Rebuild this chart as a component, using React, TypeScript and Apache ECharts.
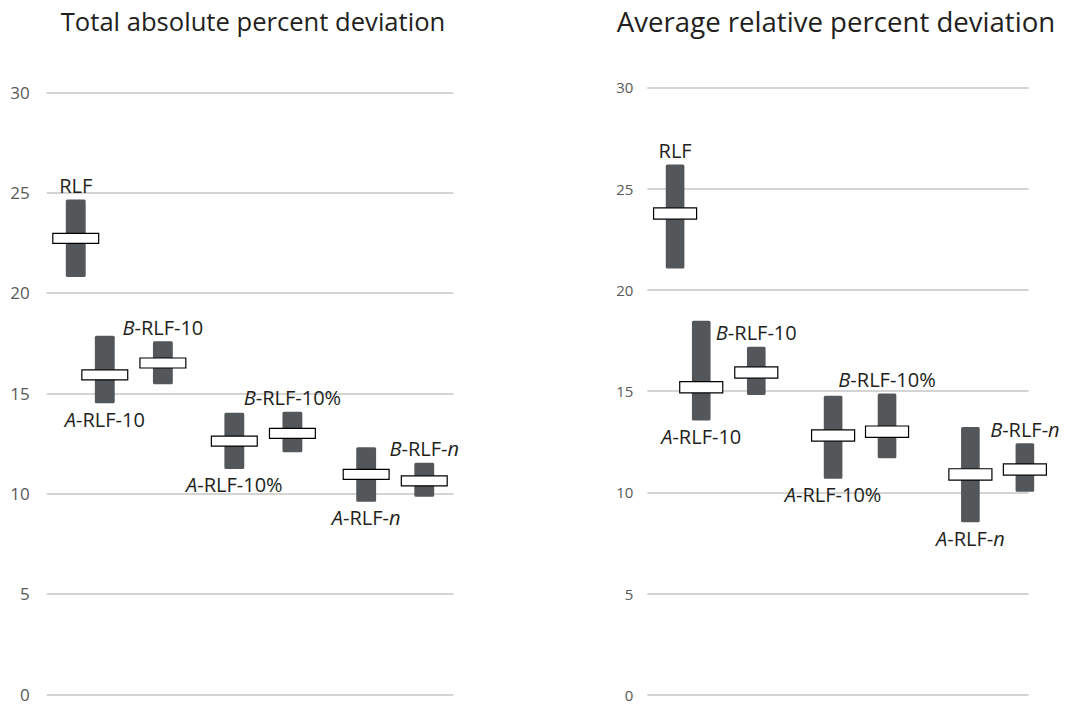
import React, { useEffect, useRef } from "react";
import * as echarts from "echarts";

const categories = ["RLF", "A-RLF-10", "B-RLF-10", "A-RLF-10%", "B-RLF-10%", "A-RLF-n", "B-RLF-n"];
const yTicks = [0, 5, 10, 15, 20, 25, 30];

// Left panel: Total absolute percent deviation
const leftX = [0.5, 1.0, 2.0, 3.23, 4.23, 5.5, 6.5];
const leftLow = [20.79, 14.51, 15.45, 11.23, 12.06, 9.6, 9.85];
const leftHigh = [24.66, 17.87, 17.59, 14.03, 14.08, 12.31, 11.54];
const leftMid = [22.72, 15.92, 16.51, 12.62, 13.0, 10.96, 10.64];

// Right panel: Average relative percent deviation
const rightX = [0.51, 0.99, 2.0, 3.41, 4.4, 5.93, 6.93];
const rightLow = [21.05, 13.55, 14.81, 10.67, 11.69, 8.53, 10.03];
const rightHigh = [26.19, 18.48, 17.19, 14.77, 14.89, 13.23, 12.43];
const rightMid = [23.77, 15.19, 15.92, 12.81, 13.0, 10.89, 11.13];

const titles = ["Total absolute percent deviation", "Average relative percent deviation"];

const FONT = "'Open Sans', 'Noto Sans', sans-serif";
const TEXT = "#231f20";
const LABEL_SIZE = 20;

function richName(name: string): string {
  let s = name;
  let out = "";
  if (s.startsWith("A-") || s.startsWith("B-")) {
    out += "{i|" + s[0] + "}";
    s = s.slice(1);
  }
  if (s.endsWith("-n")) {
    out += "{r|" + s.slice(0, -1) + "}{i|n}";
  } else {
    out += "{r|" + s + "}";
  }
  return out;
}

function makeRender(boxH: number) {
  return (params: any, api: any) => {
    const x = api.value(0);
    const lo = api.value(1);
    const hi = api.value(2);
    const md = api.value(3);
    const pTop = api.coord([x, hi]);
    const pBot = api.coord([x, lo]);
    const pMid = api.coord([x, md]);
    const slot = api.size([1, 0])[0];
    const bw = slot * 0.342;
    const boxW = slot * 0.79;
    const name = categories[params.dataIndex];
    const below = name.startsWith("A-");
    const ly = below ? pBot[1] + 16 : pTop[1] - 14;
    return {
      type: "group",
      children: [
        {
          type: "rect",
          shape: { x: pTop[0] - bw / 2, y: pTop[1], width: bw, height: pBot[1] - pTop[1], r: 1.5 },
          style: { fill: "#53575a" },
        },
        {
          type: "rect",
          shape: { x: pMid[0] - boxW / 2, y: pMid[1] - boxH / 2, width: boxW, height: boxH },
          style: { fill: "#ffffff", stroke: "#000000", lineWidth: 1.2 },
        },
        {
          type: "text",
          x: pTop[0],
          y: ly,
          style: {
            text: richName(name),
            align: "center",
            verticalAlign: "middle",
            fontFamily: FONT,
            fontSize: LABEL_SIZE,
            fill: TEXT,
            rich: {
              i: { fontStyle: "italic", fontFamily: FONT, fontSize: LABEL_SIZE, fill: TEXT },
              r: { fontFamily: FONT, fontSize: LABEL_SIZE, fill: TEXT },
            },
          },
        },
      ],
    };
  };
}

function build(xs: number[], lo: number[], hi: number[], md: number[]) {
  return xs.map((x, i) => [x, lo[i], hi[i], md[i]]);
}

export default function App() {
  const ref = useRef<HTMLDivElement>(null);
  useEffect(() => {
    if (!ref.current) return;
    const chart = echarts.init(ref.current, undefined, { renderer: "svg" });
    const yAxisBase = (fontSize: number, margin: number) => ({
      type: "value" as const,
      min: yTicks[0],
      max: yTicks[yTicks.length - 1],
      interval: yTicks[1] - yTicks[0],
      axisLine: { show: false },
      axisTick: { show: false },
      axisLabel: { color: "#595959", fontFamily: FONT, fontSize, margin },
      splitLine: { lineStyle: { color: "#d4d4d4", width: 2 } },
    });
    chart.setOption({
      animation: false,
      backgroundColor: "#ffffff",
      grid: [
        { left: 46.7, top: 92.3, width: 406.6, height: 602 },
        { left: 647.3, top: 87.3, width: 381.4, height: 607.7 },
      ],
      xAxis: [
        { type: "value", gridIndex: 0, min: 0, max: 7, show: false },
        { type: "value", gridIndex: 1, min: 0, max: 7, show: false },
      ],
      yAxis: [
        { ...yAxisBase(17, 17), gridIndex: 0 },
        { ...yAxisBase(15, 14), gridIndex: 1 },
      ],
      graphic: [
        {
          type: "text",
          x: 253,
          y: 21,
          style: { text: titles[0], font: `25.6px ${FONT}`, fill: TEXT, align: "center", verticalAlign: "middle" },
        },
        {
          type: "text",
          x: 836,
          y: 21,
          style: { text: titles[1], font: `27.6px ${FONT}`, fill: TEXT, align: "center", verticalAlign: "middle" },
        },
      ],
      series: [
        {
          type: "custom",
          xAxisIndex: 0,
          yAxisIndex: 0,
          renderItem: makeRender(10),
          encode: { x: 0, y: [1, 2, 3] },
          data: build(leftX, leftLow, leftHigh, leftMid),
          clip: false,
        },
        {
          type: "custom",
          xAxisIndex: 1,
          yAxisIndex: 1,
          renderItem: makeRender(11.3),
          encode: { x: 0, y: [1, 2, 3] },
          data: build(rightX, rightLow, rightHigh, rightMid),
          clip: false,
        },
      ],
    });
    return () => chart.dispose();
  }, []);
  return (
    <div
      ref={ref}
      style={{ position: "fixed", left: 0, top: 0, width: 1070, height: 705, background: "#fff" }}
    />
  );
}
